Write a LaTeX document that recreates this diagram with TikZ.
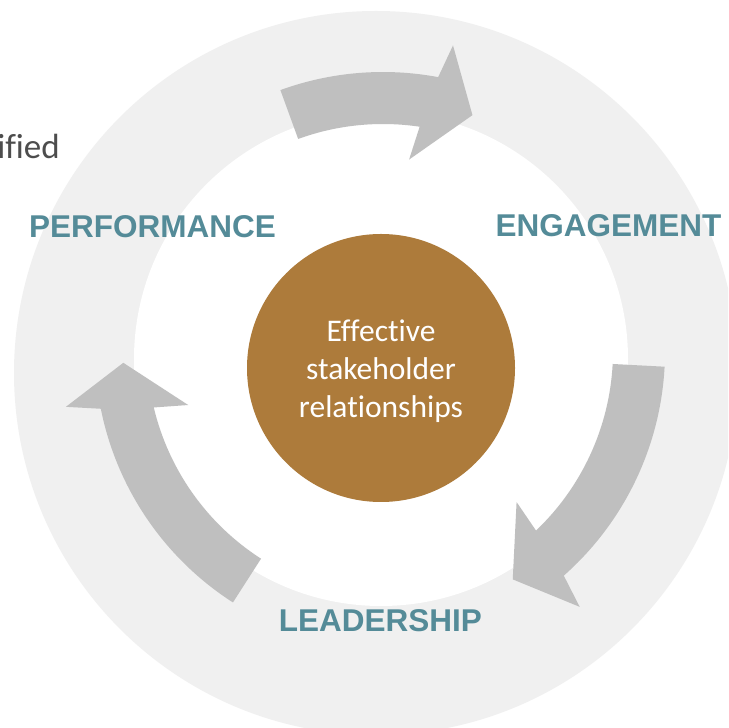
\documentclass[tikz,border=0pt]{standalone}
\usepackage{fontspec}
\setmainfont{Carlito}[Ligatures=CommonOff]
\newfontfamily\labelfont{Liberation Sans}

\definecolor{ringgrey}{RGB}{240,240,240}
\definecolor{arrowgrey}{RGB}{191,191,191}
\definecolor{corebrown}{RGB}{173,123,59}
\definecolor{labelteal}{RGB}{84,139,152}
\definecolor{textgrey}{RGB}{77,77,77}

% curved block arrow round a centre: #1 centre, #2 angle of the tip, #3 angle from tip back to tail
\newcommand{\cyclearrow}[3]{%
  \fill[arrowgrey] ([shift={(#2+#3:300pt)}]#1)
    arc[start angle=#2+#3, end angle=#2+8.6, radius=300pt]
    -- ([shift={(#2+7.1:334pt)}]#1)
    -- ([shift={(#2:272pt)}]#1)
    -- ([shift={(#2+12.2:214pt)}]#1)
    -- ([shift={(#2+10.7:248pt)}]#1)
    arc[start angle=#2+10.7, end angle=#2+#3, radius=248pt]
    -- cycle;}

\tikzset{
  stagelabel/.style={text=labelteal, inner sep=0pt, anchor=base,
    font=\labelfont\bfseries\fontsize{31.5}{36}\selectfont},
  corelabel/.style={text=white, inner sep=0pt, align=center,
    font=\fontsize{31.5}{38}\selectfont},
  disc/.style={circle, inner sep=0pt, draw=none}
}

\begin{document}
\begin{tikzpicture}[x=1pt, y=1pt]
  \useasboundingbox (0,0) rectangle (728,728);
  \clip (0,0) rectangle (728,728);
  \fill[white] (0,0) rectangle (728,728);

  % background ring
  \node[disc, fill=ringgrey, minimum size=724pt] (ring) at (376,355) {};
  \node[disc, fill=white, minimum size=494pt] (hole) at (381,369) {};

  % arc centres of the three arrows
  \coordinate (ctop) at (383,356);
  \coordinate (cright) at (365,377);
  \coordinate (cleft) at (395,378);

  \cyclearrow{ctop}{70.8}{39.2}
  \cyclearrow{cright}{-57.1}{54.1}
  \cyclearrow{cleft}{182.7}{54.6}

  % centre disc
  \node[disc, fill=corebrown, minimum size=268pt] (core) at (381,360) {};
  \node[corelabel] (coretext) at (381,357) {Effective\\stakeholder\\relationships};

  % stage labels
  \node[stagelabel] (perf) at (152.5,490) {PERFORMANCE};
  \node[stagelabel] (eng) at (608.5,491) {ENGAGEMENT};
  \node[stagelabel] (lead) at (380.5,96) {LEADERSHIP};

  % clipped word at the left margin
  \node[text=textgrey, inner sep=0pt, anchor=base east,
        font=\fontsize{35}{40}\selectfont] (side) at (60,569) {ified};
\end{tikzpicture}
\end{document}
